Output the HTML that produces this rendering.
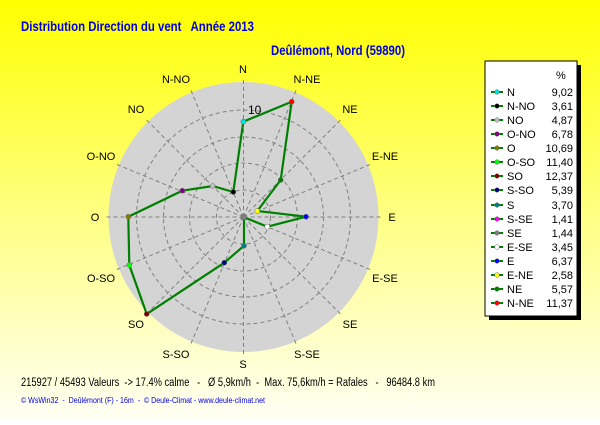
<!DOCTYPE html>
<html><head><style>
body{margin:0;width:600px;height:420px;overflow:hidden;font-family:"Liberation Sans",sans-serif;}
text{white-space:pre;}
</style></head><body>
<svg width="600" height="420" xmlns="http://www.w3.org/2000/svg" font-family="Liberation Sans, sans-serif">
<defs><linearGradient id="bg" x1="0" y1="0" x2="0" y2="1">
<stop offset="0" stop-color="#ffff00"/><stop offset="0.5" stop-color="#ffff80"/><stop offset="1" stop-color="#fffff4"/></linearGradient></defs>
<rect width="600" height="420" fill="url(#bg)"/>
<text x="21" y="31" font-size="14" font-weight="bold" fill="#0000e0" textLength="233" lengthAdjust="spacingAndGlyphs">Distribution Direction du vent&#160;&#160; Année 2013</text>
<text x="271" y="55" font-size="14" font-weight="bold" fill="#0000e0" textLength="134" lengthAdjust="spacingAndGlyphs">Deûlémont, Nord (59890)</text>
<circle cx="243.5" cy="217" r="135" fill="#d4d4d4"/>
<g fill="none" stroke="#808080" stroke-dasharray="4,3" stroke-width="1">
<circle cx="243.5" cy="217" r="27"/><circle cx="243.5" cy="217" r="54"/><circle cx="243.5" cy="217" r="80"/><circle cx="243.5" cy="217" r="107"/>
<line x1="243.5" y1="217" x2="243.5" y2="77"/>
<line x1="243.5" y1="217" x2="297" y2="88"/>
<line x1="243.5" y1="217" x2="342.5" y2="118"/>
<line x1="243.5" y1="217" x2="372.5" y2="163.5"/>
<line x1="243.5" y1="217" x2="383.5" y2="217"/>
<line x1="243.5" y1="217" x2="372.5" y2="270.5"/>
<line x1="243.5" y1="217" x2="342.5" y2="316"/>
<line x1="243.5" y1="217" x2="297" y2="346"/>
<line x1="243.5" y1="217" x2="243.5" y2="357"/>
<line x1="243.5" y1="217" x2="190" y2="346"/>
<line x1="243.5" y1="217" x2="144.5" y2="316"/>
<line x1="243.5" y1="217" x2="114.5" y2="270.5"/>
<line x1="243.5" y1="217" x2="103.5" y2="217"/>
<line x1="243.5" y1="217" x2="114.5" y2="163.5"/>
<line x1="243.5" y1="217" x2="144.5" y2="118"/>
<line x1="243.5" y1="217" x2="190" y2="88"/>
</g>
<text x="248" y="114" font-size="12" fill="#000">10</text>
<g font-size="11" fill="#000" text-anchor="middle">
<text x="243" y="73">N</text><text x="307" y="83">N-NE</text><text x="350" y="113">NE</text><text x="385" y="160">E-NE</text>
<text x="392" y="221">E</text><text x="385" y="282">E-SE</text><text x="350" y="328">SE</text><text x="307" y="358">S-SE</text>
<text x="243" y="368">S</text><text x="176" y="358">S-SO</text><text x="136" y="328">SO</text><text x="101" y="282">O-SO</text>
<text x="95" y="221">O</text><text x="101" y="160">O-NO</text><text x="136" y="113">NO</text><text x="176" y="83">N-NO</text>
</g>
<polyline fill="none" stroke="#008000" stroke-width="2.2" points="243.3,121.7 291.7,101.7 280.7,180 257.3,211 306,216.7 267.3,226.7 244,217.3 244,217.3 244,245.7 224.3,262.7 146.7,314 129.3,265 128.3,216.7 182.3,190.7 212.7,186 233.3,192 243.3,121.7"/>
<g stroke="#666" stroke-width="0.5">
<circle cx="243.3" cy="121.7" r="2.5" fill="#00e0e0"/>
<circle cx="291.7" cy="101.7" r="2.5" fill="#ff0000"/>
<circle cx="280.7" cy="180" r="2.5" fill="#008000"/>
<circle cx="257.3" cy="211" r="2.5" fill="#ffff00"/>
<circle cx="306" cy="216.7" r="2.5" fill="#0000ff"/>
<circle cx="267.3" cy="226.7" r="2.5" fill="#ffffff"/>
<circle cx="244" cy="217.3" r="2.5" fill="#808080"/>
<circle cx="244" cy="245.7" r="2.5" fill="#008080"/>
<circle cx="224.3" cy="262.7" r="2.5" fill="#000080"/>
<circle cx="146.7" cy="314" r="2.5" fill="#800000"/>
<circle cx="129.3" cy="265" r="2.5" fill="#00ff00"/>
<circle cx="128.3" cy="216.7" r="2.5" fill="#808000"/>
<circle cx="182.3" cy="190.7" r="2.5" fill="#800080"/>
<circle cx="212.7" cy="186" r="2.5" fill="#c0c0c0"/>
<circle cx="233.3" cy="192" r="2.5" fill="#000000"/>
</g>
<rect x="489" y="65" width="92" height="255" fill="#000"/>
<rect x="485" y="61" width="92" height="255" fill="#fff" stroke="#000" stroke-width="1"/>
<text x="556" y="79" font-size="11" fill="#000">%</text>
<g font-size="11" fill="#000">
<g stroke="#008000" stroke-width="2">
<line x1="491" y1="92" x2="503" y2="92"/><line x1="491" y1="106" x2="503" y2="106"/><line x1="491" y1="120" x2="503" y2="120"/><line x1="491" y1="134" x2="503" y2="134"/><line x1="491" y1="148" x2="503" y2="148"/><line x1="491" y1="162" x2="503" y2="162"/><line x1="491" y1="176" x2="503" y2="176"/><line x1="491" y1="190" x2="503" y2="190"/><line x1="491" y1="205" x2="503" y2="205"/><line x1="491" y1="219" x2="503" y2="219"/><line x1="491" y1="233" x2="503" y2="233"/><line x1="491" y1="247" x2="503" y2="247"/><line x1="491" y1="261" x2="503" y2="261"/><line x1="491" y1="275" x2="503" y2="275"/><line x1="491" y1="289" x2="503" y2="289"/><line x1="491" y1="303" x2="503" y2="303"/></g>
<g stroke="#666" stroke-width="0.5">
<circle cx="497" cy="92" r="2.3" fill="#00e0e0"/><circle cx="497" cy="106" r="2.3" fill="#000"/><circle cx="497" cy="120" r="2.3" fill="#c0c0c0"/><circle cx="497" cy="134" r="2.3" fill="#800080"/><circle cx="497" cy="148" r="2.3" fill="#808000"/><circle cx="497" cy="162" r="2.3" fill="#00ff00"/><circle cx="497" cy="176" r="2.3" fill="#800000"/><circle cx="497" cy="190" r="2.3" fill="#000080"/><circle cx="497" cy="205" r="2.3" fill="#008080"/><circle cx="497" cy="219" r="2.3" fill="#ff00ff"/><circle cx="497" cy="233" r="2.3" fill="#808080"/><circle cx="497" cy="247" r="2.3" fill="#fff"/><circle cx="497" cy="261" r="2.3" fill="#0000ff"/><circle cx="497" cy="275" r="2.3" fill="#ffff00"/><circle cx="497" cy="289" r="2.3" fill="#008000"/><circle cx="497" cy="303" r="2.3" fill="#ff0000"/></g>
<g>
<text x="507" y="96">N</text><text x="507" y="110">N-NO</text><text x="507" y="124">NO</text><text x="507" y="138">O-NO</text><text x="507" y="152">O</text><text x="507" y="166">O-SO</text><text x="507" y="180">SO</text><text x="507" y="194">S-SO</text><text x="507" y="209">S</text><text x="507" y="223">S-SE</text><text x="507" y="237">SE</text><text x="507" y="251">E-SE</text><text x="507" y="265">E</text><text x="507" y="279">E-NE</text><text x="507" y="293">NE</text><text x="507" y="307">N-NE</text>
</g>
<g text-anchor="end">
<text x="573" y="96">9,02</text><text x="573" y="110">3,61</text><text x="573" y="124">4,87</text><text x="573" y="138">6,78</text><text x="573" y="152">10,69</text><text x="573" y="166">11,40</text><text x="573" y="180">12,37</text><text x="573" y="194">5,39</text><text x="573" y="209">3,70</text><text x="573" y="223">1,41</text><text x="573" y="237">1,44</text><text x="573" y="251">3,45</text><text x="573" y="265">6,37</text><text x="573" y="279">2,58</text><text x="573" y="293">5,57</text><text x="573" y="307">11,37</text>
</g>
</g>
<text x="21" y="386" font-size="11.5" fill="#000" textLength="414" lengthAdjust="spacingAndGlyphs">215927 / 45493 Valeurs&#160; -&gt; 17.4% calme&#160;&#160; -&#160;&#160; Ø 5,9km/h&#160; -&#160; Max. 75,6km/h = Rafales&#160;&#160; -&#160;&#160; 96484.8 km</text>
<text x="21" y="403" font-size="8" fill="#0000e0" textLength="244" lengthAdjust="spacingAndGlyphs">© WsWin32&#160; -&#160; Deûlémont (F) - 16m&#160; -&#160; © Deule-Climat - www.deule-climat.net</text>
</svg>
</body></html>
